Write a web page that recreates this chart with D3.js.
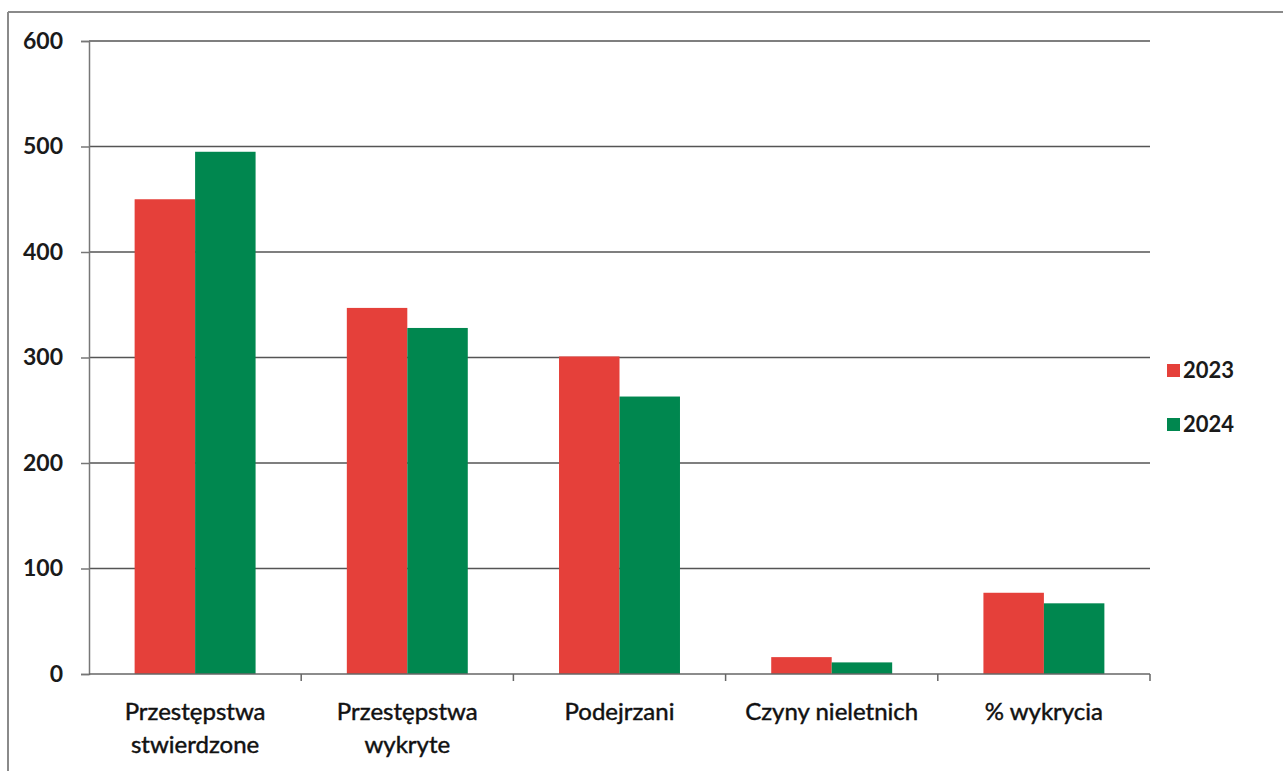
<!DOCTYPE html>
<html>
<head>
<meta charset="utf-8">
<script src="https://cdn.jsdelivr.net/npm/d3@7"></script>
<style>
  body { margin: 0; background: #fff; }
  svg { display: block; font-family: Lato, "Open Sans", sans-serif; }
</style>
</head>
<body>
<svg id="chart" width="1283" height="771"></svg>
<script>
// data
var categories = [['Przestępstwa', 'stwierdzone'], ['Przestępstwa', 'wykryte'], ['Podejrzani'], ['Czyny nieletnich'], ['% wykrycia']];
var series = ['2023', '2024'];
var values2023 = [450, 347, 301, 16, 77];
var values2024 = [495, 328, 263, 11, 67];
var yTicks = [0, 100, 200, 300, 400, 500, 600];
var colors = ['#e5403a', '#00874f'];

var svg = d3.select('#chart'),
    plotLeft = 89, plotRight = 1150, plotTop = 41, plotBottom = 674;

// outer frame (top and left edges only are visible in the scan)
svg.append('line').attr('x1', 8).attr('x2', 1283).attr('y1', 12).attr('y2', 12)
    .attr('stroke', '#8a8a8a').attr('stroke-width', 2);
svg.append('line').attr('x1', 8).attr('x2', 8).attr('y1', 12).attr('y2', 771)
    .attr('stroke', '#8a8a8a').attr('stroke-width', 2);

var x = d3.scaleBand().domain(d3.range(categories.length)).range([plotLeft, plotRight]).paddingInner(0.43).paddingOuter(0.215);
var step = (plotRight - plotLeft) / categories.length;
var xs = d3.scaleBand().domain(series).range([0, x.bandwidth()]);
var y = d3.scaleLinear().domain([0, 600]).range([plotBottom, plotTop]);

// gridlines
svg.append('g').selectAll('line').data(yTicks.slice(1)).enter().append('line')
    .attr('x1', plotLeft).attr('x2', plotRight)
    .attr('y1', function(d) { return y(d); }).attr('y2', function(d) { return y(d); })
    .attr('stroke', '#555').attr('stroke-width', 1.6);

// y axis
var yAxis = svg.append('g').attr('transform', 'translate(' + plotLeft + ',0)')
    .call(d3.axisLeft(y).tickValues(yTicks).tickSize(8).tickPadding(18));
yAxis.select('.domain').attr('stroke', '#777').attr('stroke-width', 1.5);
yAxis.selectAll('.tick line').attr('stroke', '#777').attr('stroke-width', 1.5);
yAxis.selectAll('text').attr('font-size', 23).attr('font-weight', 700).attr('fill', '#1a1a1a')
    .attr('font-family', 'Lato, sans-serif');

// bars
var groups = [values2023, values2024];
groups.forEach(function(vals, si) {
    svg.append('g').selectAll('rect').data(vals).enter().append('rect')
        .attr('x', function(d, i) { return x(i) + xs(series[si]); })
        .attr('width', xs.bandwidth())
        .attr('y', function(d) { return y(d); })
        .attr('height', function(d) { return y(0) - y(d); })
        .attr('fill', colors[si]);
});

// x axis with ticks at category boundaries
svg.append('line').attr('x1', plotLeft).attr('x2', plotRight).attr('y1', plotBottom).attr('y2', plotBottom)
    .attr('stroke', '#666').attr('stroke-width', 1.5);
svg.append('g').selectAll('line').data(d3.range(1, categories.length + 1)).enter().append('line')
    .attr('x1', function(d) { return plotLeft + d * step; }).attr('x2', function(d) { return plotLeft + d * step; })
    .attr('y1', plotBottom).attr('y2', plotBottom + 7)
    .attr('stroke', '#666').attr('stroke-width', 1.5);

// category labels
var lab = svg.append('g').selectAll('text').data(categories).enter().append('text')
    .attr('text-anchor', 'middle')
    .attr('font-size', 24).attr('fill', '#111')
    .attr('stroke', '#111').attr('stroke-width', 0.45)
    .attr('x', function(d, i) { return x(i) + x.bandwidth() / 2; })
    .attr('y', 720);
lab.selectAll('tspan').data(function(d) { return d; }).enter().append('tspan')
    .attr('x', function() { return d3.select(this.parentNode).attr('x'); })
    .attr('dy', function(d, i) { return i ? 33 : 0; })
    .text(function(d) { return d; });

// legend
var leg = svg.append('g').selectAll('g').data(series).enter().append('g')
    .attr('transform', function(d, i) { return 'translate(1167,' + (364 + i * 54) + ')'; });
leg.append('rect').attr('width', 13).attr('height', 13)
    .attr('fill', function(d, i) { return colors[i]; });
leg.append('text').attr('x', 16).attr('y', 14)
    .attr('font-size', 22).attr('font-weight', 700).attr('fill', '#1a1a1a')
    .text(function(d) { return d; });
</script>
</body>
</html>
